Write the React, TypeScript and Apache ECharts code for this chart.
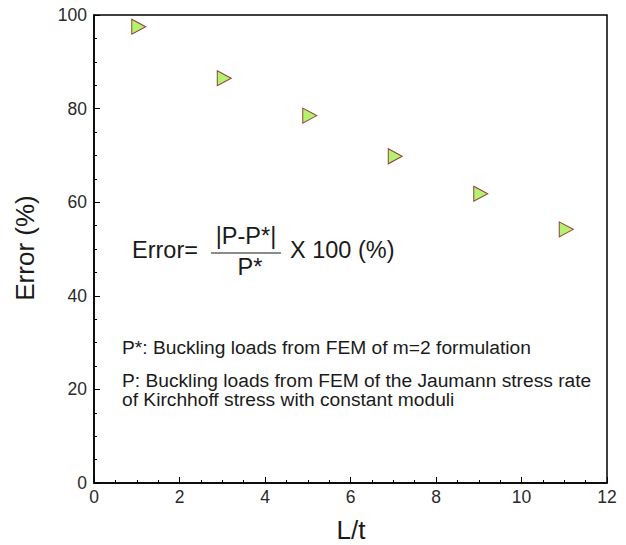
import React, { useEffect, useRef } from "react";
import * as echarts from "echarts";

const xValues = [1, 3, 5, 7, 9, 11];
const errorValues = [97.5, 86.5, 78.5, 69.8, 61.8, 54.2];
const xTicks = [0, 2, 4, 6, 8, 10, 12];
const yTicks = [0, 20, 40, 60, 80, 100];
const xTitle = "L/t";
const yTitle = "Error (%)";

const FONT = "Liberation Sans, Arial, Helvetica, sans-serif";
const INK = "#1a1a1a";

export default function App() {
  const ref = useRef<HTMLDivElement>(null);
  useEffect(() => {
    document.body.style.margin = "0";
    if (!ref.current) return;
    const chart = echarts.init(ref.current, undefined, { renderer: "svg" });
    const txt = (text: string, x: number, y: number, size: number, align = "left", rotation = 0) => ({
      type: "text",
      x,
      y,
      rotation,
      style: {
        text,
        fontSize: size,
        fill: INK,
        fontFamily: FONT,
        align,
        verticalAlign: "middle",
      },
    });
    chart.setOption({
      animation: false,
      backgroundColor: "#fff",
      textStyle: { fontFamily: FONT },
      grid: {
        left: 94,
        right: 19,
        top: 15,
        bottom: 62,
        show: true,
        borderColor: "#000",
        borderWidth: 1.5,
        backgroundColor: "transparent",
      },
      xAxis: {
        type: "value",
        min: xTicks[0],
        max: xTicks[xTicks.length - 1],
        interval: 2,
        axisLine: { show: true, lineStyle: { color: "#000", width: 1.5 } },
        axisTick: { show: true, inside: true, length: 6, lineStyle: { color: "#000" } },
        minorTick: { show: true, splitNumber: 4, length: 3, lineStyle: { color: "#000" } },
        axisLabel: { fontSize: 17.5, color: "#2a2a2a", margin: 5, fontFamily: FONT },
        splitLine: { show: false },
      },
      yAxis: {
        type: "value",
        min: yTicks[0],
        max: yTicks[yTicks.length - 1],
        interval: 20,
        axisLine: { show: true, lineStyle: { color: "#000", width: 1.5 } },
        axisTick: { show: true, inside: true, length: 6, lineStyle: { color: "#000" } },
        minorTick: { show: true, splitNumber: 4, length: 3, lineStyle: { color: "#000" } },
        axisLabel: { fontSize: 17.5, color: "#2a2a2a", margin: 7, fontFamily: FONT },
        splitLine: { show: false },
      },
      series: [
        {
          type: "scatter",
          data: xValues.map((x, i) => [x, errorValues[i]]),
          symbol: "path://M0,0L1,0.5L0,1Z",
          symbolSize: [14, 15],
          symbolOffset: [2, 0],
          itemStyle: { color: "#a4ec4c", borderColor: "#7a1414", borderWidth: 1 },
        },
      ],
      graphic: [
        txt(xTitle, 351, 530, 26, "center"),
        txt(yTitle, 25, 248, 26, "center", Math.PI / 2),
        txt("Error=", 132, 250, 23.5),
        txt("|P-P*|", 246, 236, 23.5, "center"),
        {
          type: "line",
          shape: { x1: 211, y1: 253, x2: 281, y2: 253 },
          style: { stroke: INK, lineWidth: 1.2 },
        },
        txt("P*", 250, 267, 23.5, "center"),
        txt("X 100 (%)", 290, 250, 23.5),
        txt("P*: Buckling loads from FEM of m=2 formulation", 122, 347, 19.2),
        txt("P: Buckling loads from FEM of the Jaumann stress rate", 122, 380.5, 19.2),
        txt("of Kirchhoff stress with constant moduli", 122, 399.5, 19.2),
      ],
    });
    return () => chart.dispose();
  }, []);
  return <div ref={ref} style={{ width: 626, height: 545 }} />;
}
